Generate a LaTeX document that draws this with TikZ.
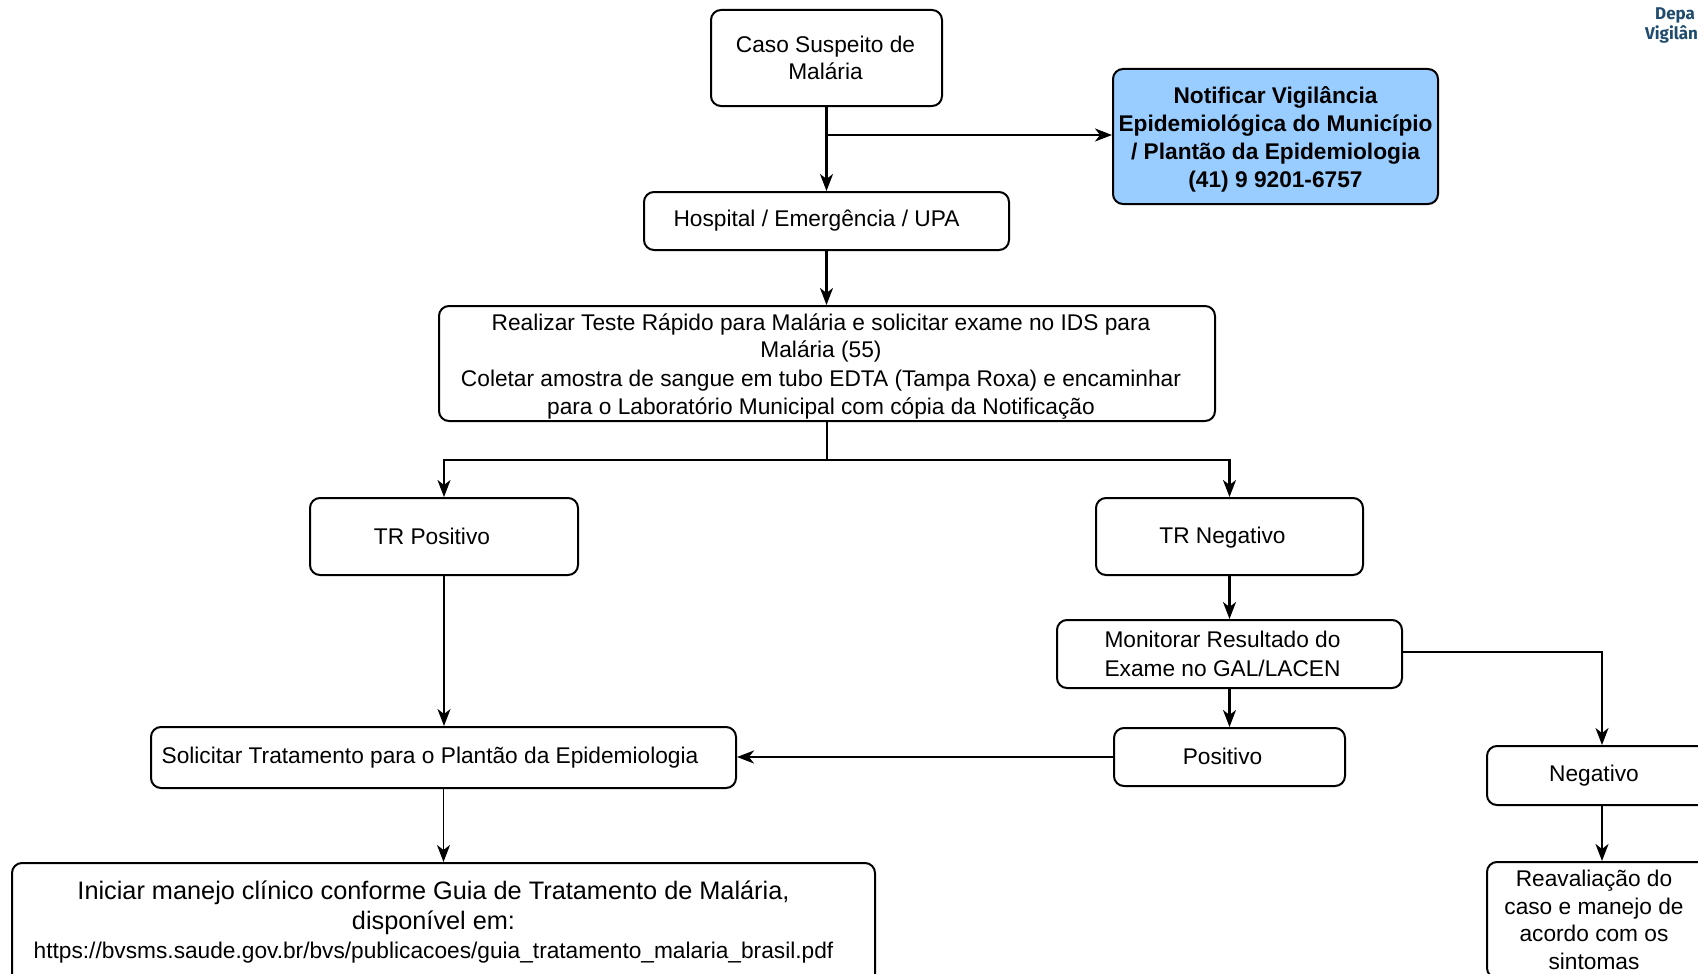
\documentclass[tikz,border=0pt]{standalone}
\usepackage{fontspec}
\setmainfont{Liberation Sans}
\newfontfamily\logofont{Fira Sans}
\usetikzlibrary{arrows.meta,calc}
\definecolor{notifblue}{RGB}{153,204,255}
\definecolor{logoblue}{RGB}{30,75,110}
\begin{document}
\begin{tikzpicture}[x=1pt,y=-1pt,
  box/.style={draw=black, line width=2, rounded corners=10, inner sep=0},
  lbl/.style={align=center, font=\fontsize{22.7}{27.5}\selectfont, inner sep=0},
  conn/.style={line width=2.2},
  arr/.style={line width=2.2, -{Stealth[length=17pt,width=13pt,inset=5pt]}}]
\useasboundingbox (0,0) rectangle (1698,974);
\clip (0,0) rectangle (1698,974);

% logo text (cut off at the edge)
\node[anchor=base west, inner sep=0, text=logoblue, font=\logofont\bfseries\fontsize{17}{20}\selectfont] (logo1) at (1655,20) {Depa};
\node[anchor=base west, inner sep=0, text=logoblue, font=\logofont\bfseries\fontsize{17}{20}\selectfont] (logo2) at (1645,39.5) {Vigilân};

% boxes
\node[box, minimum width=231, minimum height=96,
  label={[lbl, xshift=-1]center:{Caso Suspeito de\\Malária}}] (caso) at (826.5,58) {};
\node[box, fill=notifblue, minimum width=325, minimum height=135,
  label={[lbl, yshift=-3, font=\fontsize{22.7}{27.8}\selectfont\bfseries]center:{Notificar Vigilância\\Epidemiológica do Município\\/ Plantão da Epidemiologia\\(41) 9 9201-6757}}] (notif) at (1275.5,136.5) {};
\node[box, minimum width=365, minimum height=58,
  label={[lbl, xshift=-10]center:{Hospital / Emergência / UPA}}] (hosp) at (826.5,221) {};
\node[box, minimum width=776, minimum height=115,
  label={[lbl, xshift=-6, yshift=-3]center:{Realizar Teste Rápido para Malária e solicitar exame no IDS para\\Malária (55)\\[1.5]Coletar amostra de sangue em tubo EDTA (Tampa Roxa) e encaminhar\\para o Laboratório Municipal com cópia da Notificação}}] (real) at (827,363.5) {};
\node[box, minimum width=268, minimum height=77,
  label={[lbl, xshift=-12]center:{TR Positivo}}] (trpos) at (444,536.5) {};
\node[box, minimum width=267, minimum height=77,
  label={[lbl, xshift=-7, yshift=-1]center:{TR Negativo}}] (trneg) at (1229.5,536.5) {};
\node[box, minimum width=345, minimum height=68,
  label={[lbl, xshift=-7, font=\fontsize{22.7}{28.5}\selectfont]center:{Monitorar Resultado do\\Exame no GAL/LACEN}}] (mon) at (1229.5,654) {};
\node[box, minimum width=231, minimum height=58,
  label={[lbl, xshift=-7, yshift=1]center:{Positivo}}] (posi) at (1229.5,757) {};
\node[box, minimum width=230, minimum height=59,
  label={[lbl, xshift=-8]center:{Negativo}}] (neg) at (1602,775.5) {};
\node[box, minimum width=230, minimum height=116,
  label={[lbl, xshift=-8]center:{Reavaliação do\\caso e manejo de\\acordo com os\\sintomas}}] (reav) at (1602,920) {};
\node[box, minimum width=585, minimum height=61,
  label={[lbl, xshift=-13.5]center:{Solicitar Tratamento para o Plantão da Epidemiologia}}] (sol) at (443.5,757.5) {};
\node[box, minimum width=863, minimum height=122,
  label={[lbl, xshift=-10, yshift=2]center:{{\fontsize{25.3}{30}\selectfont Iniciar manejo clínico conforme Guia de Tratamento de Malária,}\\[3]{\fontsize{25.3}{30}\selectfont disponível em:}\\[1.7]{\fontsize{22.7}{30}\selectfont https://bvsms.saude.gov.br/bvs/publicacoes/guia\_tratamento\_malaria\_brasil.pdf}}}] (ini) at (443.5,924) {};

% connectors
\coordinate (j1) at (826.5,135);
\coordinate (j2) at (827,460);
\draw[arr] (caso.south) -- (hosp.north);
\draw[arr] (j1) -- (j1 -| notif.west);
\draw[arr] (hosp.south) -- (hosp.south |- real.north);
\draw[conn] (real.south) -- (j2);
\draw[arr] (j2) -| (trpos.north);
\draw[arr] (j2) -| (trneg.north);
\draw[arr, line width=1.8] (trpos.south) -- (trpos.south |- sol.north);
\draw[arr, line width=1.6] (sol.south) -- (ini.north);
\draw[arr] (trneg.south) -- (mon.north);
\draw[arr] (mon.south) -- (posi.north);
\draw[arr] (posi.west) -- (posi.west -| sol.east);
\draw[arr, line width=1.5] ($(mon.east)+(0,-2)$) -| (neg.north);
\draw[arr] (neg.south) -- (reav.north);
\end{tikzpicture}
\end{document}
